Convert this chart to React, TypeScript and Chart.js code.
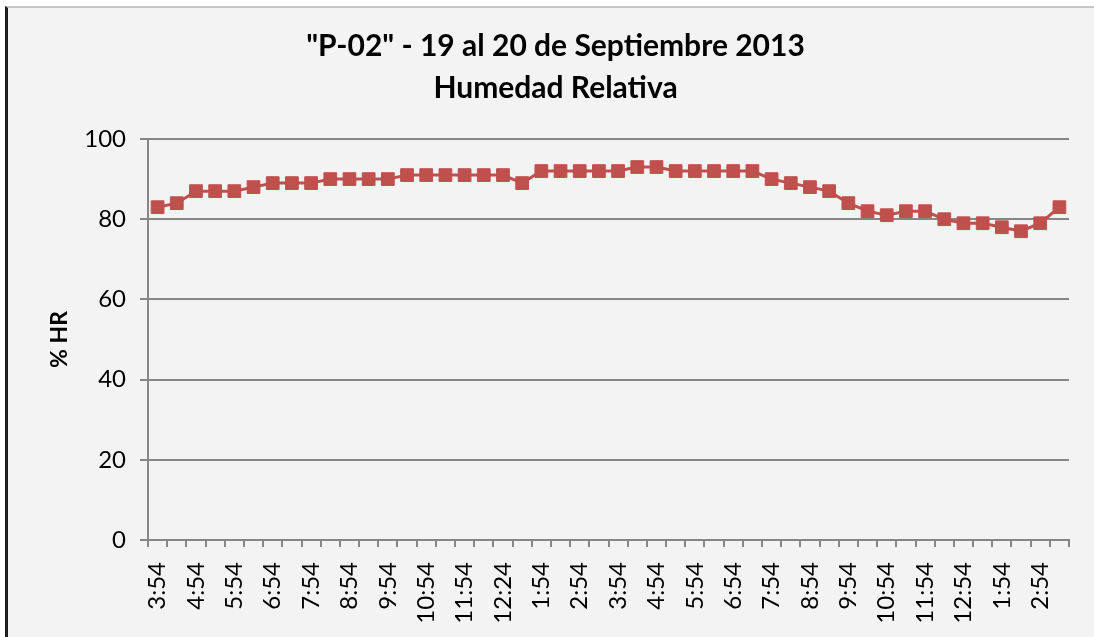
import React, { useEffect, useRef } from "react";
import { Chart, registerables } from "chart.js";

Chart.register(...registerables);

const titleLines = ['"P-02" - 19 al 20 de Septiembre 2013', "Humedad Relativa"];
const yAxisTitle = "% HR";

const categories = [
  "3:54", "4:24", "4:54", "5:24", "5:54", "6:24", "6:54", "7:24",
  "7:54", "8:24", "8:54", "9:24", "9:54", "10:24", "10:54", "11:24",
  "11:54", "12:09", "12:24", "1:24", "1:54", "2:24", "2:54", "3:24",
  "3:54", "4:24", "4:54", "5:24", "5:54", "6:24", "6:54", "7:24",
  "7:54", "8:24", "8:54", "9:24", "9:54", "10:24", "10:54", "11:24",
  "11:54", "12:24", "12:54", "1:24", "1:54", "2:24", "2:54", "3:24",
];

const humidity = [
  83, 84, 87, 87, 87, 88, 89, 89, 89, 90, 90, 90, 90, 91, 91, 91,
  91, 91, 91, 89, 92, 92, 92, 92, 92, 93, 93, 92, 92, 92, 92, 92,
  90, 89, 88, 87, 84, 82, 81, 82, 82, 80, 79, 79, 78, 77, 79, 83,
];

const yMin = 0;
const yMax = 100;
const yStep = 20;
const labelEvery = 2;

const FONT = "Lato, 'Open Sans', sans-serif";
const GRID = "#868686";
const RED = "#c0504d";

export default function App() {
  const canvasRef = useRef<HTMLCanvasElement | null>(null);

  useEffect(() => {
    const canvas = canvasRef.current;
    if (!canvas) return;
    const chart = new Chart(canvas, {
      type: "line",
      data: {
        labels: categories,
        datasets: [
          {
            label: "% HR",
            data: humidity,
            borderColor: RED,
            backgroundColor: RED,
            borderWidth: 3,
            tension: 0,
            pointStyle: "rect",
            pointRadius: 9,
            pointBorderWidth: 1,
            pointBackgroundColor: RED,
            pointBorderColor: RED,
          },
        ],
      },
      options: {
        responsive: false,
        animation: false,
        devicePixelRatio: 1,
        layout: { padding: { left: 42, right: 25, top: 0, bottom: 0 } },
        plugins: {
          legend: { display: false },
          tooltip: { enabled: false },
          title: {
            display: true,
            text: titleLines,
            color: "#000",
            font: { family: FONT, size: 30, weight: "bold", lineHeight: 1.4 },
            padding: { top: 25, bottom: 30 },
          },
        },
        scales: {
          x: {
            type: "category",
            offset: true,
            grid: {
              offset: true,
              drawOnChartArea: false,
              drawTicks: true,
              tickLength: 7,
              color: GRID,
              lineWidth: 2,
            },
            border: { display: true, color: GRID, width: 2 },
            ticks: {
              autoSkip: false,
              minRotation: 90,
              maxRotation: 90,
              padding: 15,
              color: "#000",
              font: { family: FONT, size: 24 },
              callback: (_v: any, i: number) => (i % labelEvery === 0 ? categories[i] : ""),
            },
            afterFit: (scale: any) => {
              scale.height = 97;
              scale.paddingLeft = 0;
              scale.paddingRight = 0;
            },
          },
          y: {
            min: yMin,
            max: yMax,
            ticks: {
              stepSize: yStep,
              padding: 14,
              color: "#000",
              font: { family: FONT, size: 24 },
            },
            grid: {
              color: GRID,
              lineWidth: 2,
              drawTicks: true,
              tickLength: 8,
            },
            border: { display: true, color: GRID, width: 2 },
            title: {
              display: true,
              text: yAxisTitle,
              color: "#000",
              font: { family: FONT, size: 23, weight: "bold", lineHeight: 1.2 },
              padding: { top: 4, bottom: 0 },
            },
            afterFit: (scale: any) => {
              scale.width = 106;
            },
          },
        },
      },
    });
    return () => chart.destroy();
  }, []);

  return (
    <div style={{ position: "fixed", left: 0, top: 0, width: 1094, height: 637, background: "#fff", overflow: "hidden" }}>
      <div
        style={{
          position: "absolute",
          left: 5,
          top: 6,
          width: 1100,
          height: 640,
          background: "#f3f3f3",
          borderLeft: "3px solid #1c1c1c",
          borderTop: "2px solid #c6c6c6",
        }}
      />
      <canvas ref={canvasRef} width={1094} height={637} style={{ position: "absolute", left: 0, top: 0 }} />
    </div>
  );
}
